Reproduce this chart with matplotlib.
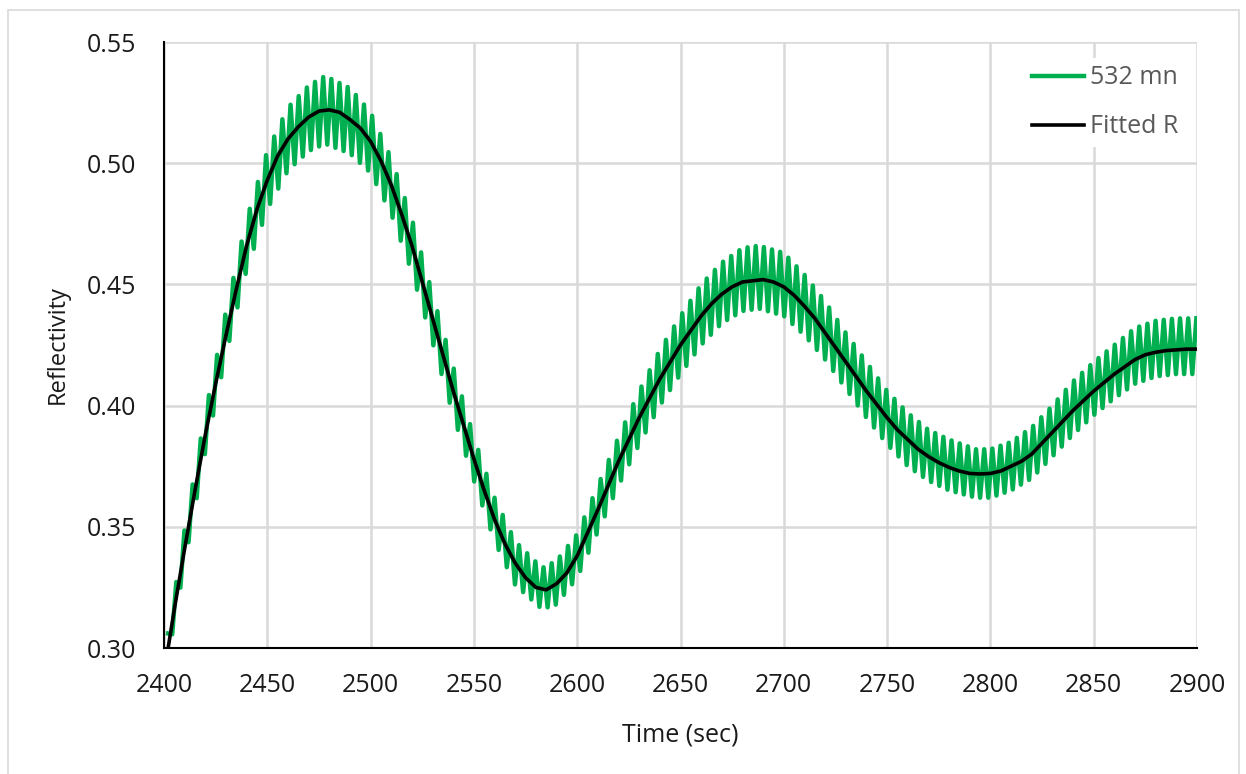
import numpy as np
import matplotlib
matplotlib.use("Agg")
import matplotlib.pyplot as plt
from matplotlib.patches import Rectangle
from matplotlib.ticker import FormatStrFormatter

# fitted curve, every 5 s
fit_t = [2402, 2405, 2410, 2415, 2420, 2425, 2430, 2435, 2440, 2445,
         2450, 2455, 2460, 2465, 2470, 2475, 2480, 2485, 2490, 2495,
         2500, 2505, 2510, 2515, 2520, 2525, 2530, 2535, 2540, 2545,
         2550, 2555, 2560, 2565, 2570, 2575, 2580, 2585, 2590, 2595,
         2600, 2605, 2610, 2615, 2620, 2625, 2630, 2635, 2640, 2645,
         2650, 2655, 2660, 2665, 2670, 2675, 2680, 2685, 2690, 2695,
         2700, 2705, 2710, 2715, 2720, 2725, 2730, 2735, 2740, 2745,
         2750, 2755, 2760, 2765, 2770, 2775, 2780, 2785, 2790, 2795,
         2800, 2805, 2810, 2815, 2820, 2825, 2830, 2835, 2840, 2845,
         2850, 2855, 2860, 2865, 2870, 2875, 2880, 2885, 2890, 2895, 2900]
fit_r = [0.300, 0.316, 0.341, 0.365, 0.388, 0.409, 0.429, 0.448, 0.466, 0.481,
         0.493, 0.503, 0.510, 0.515, 0.519, 0.5215, 0.522, 0.521, 0.518, 0.5145,
         0.509, 0.501, 0.491, 0.479, 0.466, 0.451, 0.436, 0.421, 0.406, 0.392,
         0.378, 0.365, 0.353, 0.343, 0.335, 0.329, 0.325, 0.324, 0.3265, 0.331,
         0.338, 0.3475, 0.357, 0.367, 0.377, 0.386, 0.395, 0.403, 0.411, 0.418,
         0.425, 0.431, 0.437, 0.442, 0.446, 0.449, 0.451, 0.4515, 0.452, 0.451,
         0.449, 0.4455, 0.441, 0.436, 0.430, 0.424, 0.418, 0.412, 0.406, 0.4005,
         0.395, 0.390, 0.386, 0.382, 0.379, 0.3765, 0.3745, 0.373, 0.372, 0.3718,
         0.372, 0.373, 0.375, 0.377, 0.380, 0.3845, 0.389, 0.3935, 0.398, 0.402,
         0.406, 0.4095, 0.413, 0.416, 0.419, 0.421, 0.422, 0.4227, 0.423, 0.4233, 0.4233]

# upper / lower edge of the 532 nm trace (it ripples between them)
edge_t = [2402, 2410, 2420, 2430, 2440, 2450, 2460, 2470, 2478, 2490,
          2500, 2510, 2520, 2530, 2540, 2550, 2560, 2570, 2583, 2590,
          2600, 2610, 2620, 2630, 2640, 2650, 2660, 2670, 2680, 2688,
          2700, 2710, 2720, 2730, 2740, 2750, 2760, 2770, 2780, 2793,
          2800, 2810, 2820, 2830, 2840, 2850, 2860, 2870, 2880, 2890, 2900]
green_hi = [0.306, 0.349, 0.397, 0.439, 0.477, 0.505, 0.523, 0.532, 0.536, 0.531,
            0.521, 0.502, 0.477, 0.446, 0.416, 0.387, 0.362, 0.344, 0.333, 0.336,
            0.347, 0.367, 0.387, 0.406, 0.423, 0.437, 0.450, 0.459, 0.465, 0.466,
            0.463, 0.454, 0.443, 0.430, 0.418, 0.406, 0.397, 0.390, 0.386, 0.382,
            0.382, 0.385, 0.391, 0.400, 0.410, 0.418, 0.425, 0.432, 0.435, 0.436, 0.436]
green_lo = [0.296, 0.335, 0.381, 0.421, 0.456, 0.481, 0.497, 0.505, 0.508, 0.504,
            0.496, 0.479, 0.455, 0.426, 0.396, 0.369, 0.344, 0.326, 0.316, 0.318,
            0.329, 0.348, 0.367, 0.384, 0.400, 0.413, 0.425, 0.434, 0.439, 0.440,
            0.437, 0.429, 0.419, 0.407, 0.395, 0.384, 0.375, 0.369, 0.365, 0.362,
            0.362, 0.365, 0.370, 0.379, 0.388, 0.396, 0.403, 0.409, 0.412, 0.413, 0.413]
ripple_period = 3.95  # seconds, counted from the spikes

x_ticks = [2400, 2450, 2500, 2550, 2600, 2650, 2700, 2750, 2800, 2850, 2900]
y_ticks = [0.30, 0.35, 0.40, 0.45, 0.50, 0.55]

plt.rcParams['font.family'] = ['Open Sans', 'DejaVu Sans']

W, H = 1246, 774
fig = plt.figure(figsize=(W / 100, H / 100), dpi=100)
ax = fig.add_axes([164 / W, 1 - 648 / H, (1197 - 164) / W, (648 - 42) / H])

# green trace: alternate between upper and lower edge each half ripple
t_green = np.arange(edge_t[0], edge_t[-1] + 0.01, ripple_period / 2)
hi = np.interp(t_green, edge_t, green_hi)
lo = np.interp(t_green, edge_t, green_lo)
y_green = np.where(np.arange(len(t_green)) % 2 == 0, hi, lo)

ax.plot(t_green, y_green, color='#00B050', lw=3.2, label='532 mn', zorder=3)
ax.plot(fit_t, fit_r, color='black', lw=2.6, label='Fitted R', zorder=4,
        solid_joinstyle='round')

ax.set_xlim(2400, 2900)
ax.set_ylim(0.30, 0.55)
ax.set_xticks(x_ticks)
ax.set_yticks(y_ticks)
ax.yaxis.set_major_formatter(FormatStrFormatter('%.2f'))
ax.grid(True, color='#D9D9D9', lw=1.8, zorder=0)
ax.set_axisbelow(True)

for s in ['top', 'right']:
    ax.spines[s].set_visible(False)
for s in ['left', 'bottom']:
    ax.spines[s].set_color('black')
    ax.spines[s].set_linewidth(1.5)
    ax.spines[s].set_zorder(5)

ax.tick_params(length=0, labelsize=18, labelcolor='#1a1a1a')
ax.tick_params(axis='y', pad=20)
ax.tick_params(axis='x', pad=18)

ax.set_xlabel('Time (sec)', fontsize=18, color='#1a1a1a', labelpad=18)
ax.set_ylabel('Reflectivity', fontsize=17, color='#1a1a1a', labelpad=12)

leg = ax.legend(loc='upper right', bbox_to_anchor=(1186 / W, 1 - 58 / H),
                bbox_transform=fig.transFigure, fontsize=18, frameon=True,
                handlelength=2.1, handletextpad=0.25, labelspacing=0.95,
                borderpad=0.3, borderaxespad=0)
leg.get_frame().set_edgecolor('none')
leg.get_frame().set_facecolor('white')
leg.get_frame().set_alpha(1)
for txt in leg.get_texts():
    txt.set_color('#595959')

# light chart-area border
fig.patches.append(Rectangle((8 / W, -0.01), (1239 - 8) / W, 1 - 10 / H + 0.01,
                             transform=fig.transFigure, fill=False,
                             edgecolor='#D9D9D9', lw=1.2))

fig.savefig('out.png', dpi=100)
